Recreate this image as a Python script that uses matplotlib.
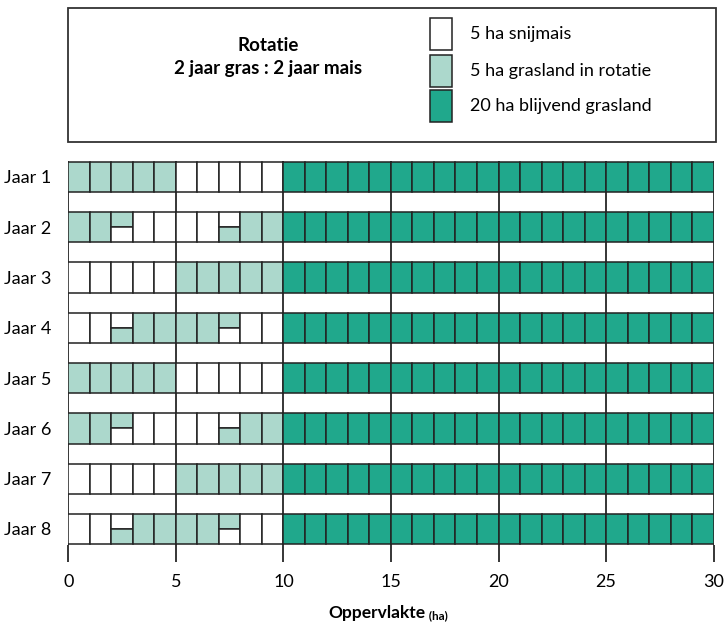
import matplotlib
matplotlib.use("Agg")
import matplotlib.pyplot as plt
from matplotlib.patches import Rectangle

# --- data -------------------------------------------------------------
years = ["Jaar 1", "Jaar 2", "Jaar 3", "Jaar 4",
         "Jaar 5", "Jaar 6", "Jaar 7", "Jaar 8"]

# first 10 ha, one code per 1-ha cell
# M = snijmais, G = grasland in rotatie, two letters = top half / bottom half
rotatie = [
    ["G", "G", "G", "G", "G", "M", "M", "M", "M", "M"],
    ["G", "G", "GM", "M", "M", "M", "M", "MG", "G", "G"],
    ["M", "M", "M", "M", "M", "G", "G", "G", "G", "G"],
    ["M", "M", "MG", "G", "G", "G", "G", "GM", "M", "M"],
    ["G", "G", "G", "G", "G", "M", "M", "M", "M", "M"],
    ["G", "G", "GM", "M", "M", "M", "M", "MG", "G", "G"],
    ["M", "M", "M", "M", "M", "G", "G", "G", "G", "G"],
    ["M", "M", "MG", "G", "G", "G", "G", "GM", "M", "M"],
]
blijvend_ha = 20          # 20 cells of 1 ha each, after the rotation part
xticks = [0, 5, 10, 15, 20, 25, 30]

legend_labels = ["5 ha snijmais", "5 ha grasland in rotatie", "20 ha blijvend grasland"]
title_text = "Rotatie\n2 jaar gras : 2 jaar mais"

COLORS = {"M": "white", "G": "#acd8cc", "B": "#20a88c"}
EDGE = "#222222"

plt.rcParams["font.family"] = ["Lato", "DejaVu Sans"]

fig = plt.figure(figsize=(7.27, 6.29), dpi=100)
ax = fig.add_axes([0.0935, 0.1342, 0.8886, 0.6092])

H = 0.6
for i, cells in enumerate(rotatie):
    for j, code in enumerate(cells):
        if len(code) == 1:
            ax.barh(i, 1, left=j, height=H, color=COLORS[code],
                    edgecolor=EDGE, lw=1.1, zorder=3)
        else:
            ax.barh(i - H / 4, 1, left=j, height=H / 2, color=COLORS[code[0]],
                    edgecolor=EDGE, lw=1.1, zorder=3)
            ax.barh(i + H / 4, 1, left=j, height=H / 2, color=COLORS[code[1]],
                    edgecolor=EDGE, lw=1.1, zorder=3)
    start = len(cells)
    for k in range(blijvend_ha):
        ax.barh(i, 1, left=start + k, height=H, color=COLORS["B"],
                edgecolor=EDGE, lw=1.1, zorder=3)

ax.set_xlim(-0.02, 30.02)
ax.set_ylim(len(years) - 1 + H / 2 + 0.01, -H / 2 - 0.01)

for x in xticks:
    ax.axvline(x, color="black", lw=1.1, zorder=1)

ax.set_xticks(xticks)
ax.set_xticklabels([str(x) for x in xticks], fontsize=13)
ax.tick_params(axis="x", length=12, width=1.1, pad=9, color="black")
ax.set_yticks(range(len(years)))
ax.set_yticklabels(years, fontsize=13)
ax.tick_params(axis="y", length=0, pad=12)
for s in ax.spines.values():
    s.set_visible(False)

lab = fig.text(0.519, 0.0175, "Oppervlakte", ha="center", va="baseline",
               fontsize=12.5, fontweight="bold")
ax.annotate(" (ha)", xy=(1, 0), xycoords=lab, va="bottom", ha="left",
            fontsize=8.5, fontweight="bold")

# header box with title and legend
W, Hf = 727, 629
def fx(px):
    return px / W
def fy(py):
    return 1 - py / Hf

fig.patches.append(Rectangle((fx(68), fy(142)), fx(716) - fx(68), fy(8) - fy(142),
                             transform=fig.transFigure, fill=False,
                             edgecolor="#333333", lw=1.3))
fig.text(fx(268), fy(57), title_text, ha="center", va="center", fontsize=13.5,
         fontweight="bold", linespacing=1.4)

leg_colors = [COLORS["M"], COLORS["G"], COLORS["B"]]
leg_top = [18, 55, 90]
for lbl, c, t in zip(legend_labels, leg_colors, leg_top):
    fig.patches.append(Rectangle((fx(430), fy(t + 32)), fx(452) - fx(430),
                                 fy(t) - fy(t + 32), transform=fig.transFigure,
                                 facecolor=c, edgecolor=EDGE, lw=1.1))
    fig.text(fx(470), fy(t + 16), lbl, ha="left", va="center", fontsize=13)

fig.savefig("out.png", dpi=100)
